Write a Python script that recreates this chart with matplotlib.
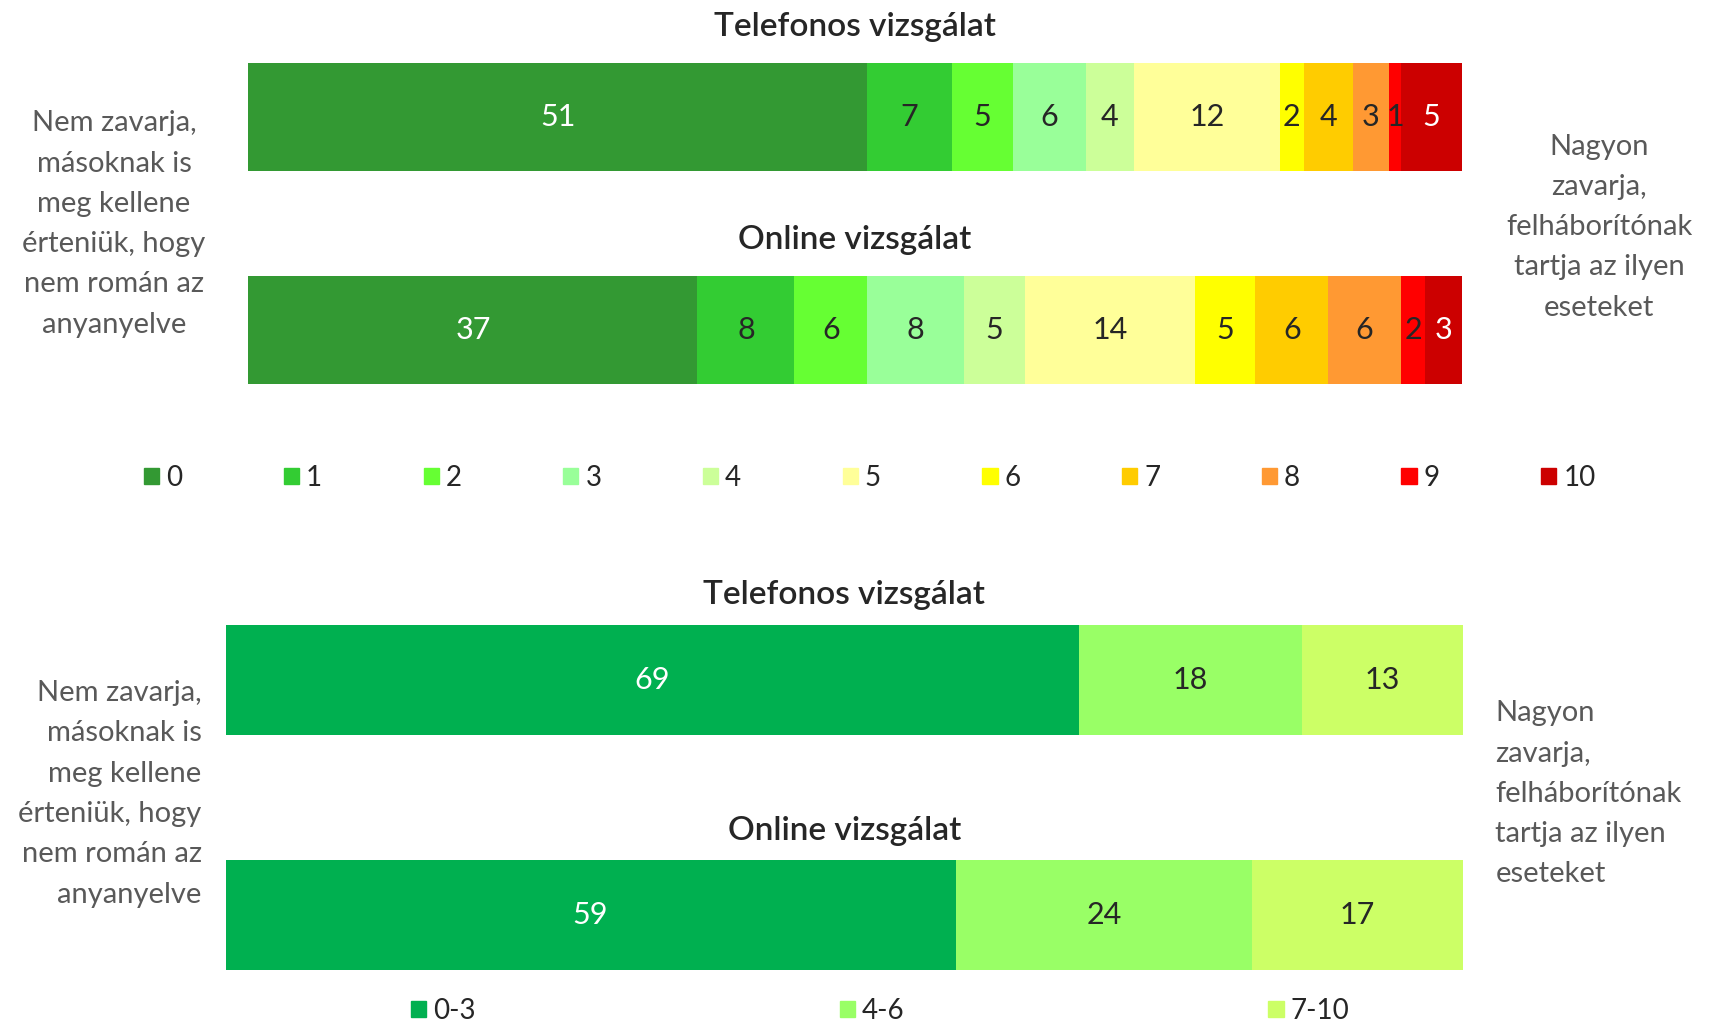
import matplotlib
matplotlib.use("Agg")
import matplotlib.pyplot as plt
import numpy as np

plt.rcParams['font.family'] = ['Lato', 'DejaVu Sans']

# --- data -------------------------------------------------------------
rows = ['Telefonos vizsgálat', 'Online vizsgálat']

cats_11 = ['0', '1', '2', '3', '4', '5', '6', '7', '8', '9', '10']
tel_11 = [51, 7, 5, 6, 4, 12, 2, 4, 3, 1, 5]
onl_11 = [37, 8, 6, 8, 5, 14, 5, 6, 6, 2, 3]
colors_11 = ['#339933', '#33CC33', '#66FF33', '#99FF99', '#CCFF99', '#FFFF99',
             '#FFFF00', '#FFCC00', '#FF9933', '#FF0000', '#CC0000']
txtcol_11 = ['white', '#262626', '#262626', '#262626', '#262626', '#262626',
             '#262626', '#262626', '#262626', '#262626', 'white']

cats_3 = ['0-3', '4-6', '7-10']
tel_3 = [69, 18, 13]
onl_3 = [59, 24, 17]
colors_3 = ['#00B050', '#99FF66', '#CCFF66']
txtcol_3 = ['white', '#262626', '#262626']

left_txt = 'Nem zavarja,\nmásoknak is\nmeg kellene\nérteniük, hogy\nnem román az\nanyanyelve'
right_txt = 'Nagyon\nzavarja,\nfelháborítónak\ntartja az ilyen\neseteket'

FS = 22       # value labels
FS_S = 21     # side text
FS_T = 24     # row titles
FS_L = 20     # legend
LS = 1.68
SIDE_COL = '#595959'


def stacked(ax, series, colors, txtcols, height, toff):
    for i, vals in enumerate(series):
        left = 0
        for v, c, tc in zip(vals, colors, txtcols):
            ax.barh(i, v, left=left, height=height, color=c, edgecolor='none')
            ax.text(left + v / 2, i, str(v), ha='center', va='center',
                    fontsize=FS, color=tc)
            left += v
        ax.annotate(rows[i], xy=(50, i - height / 2), xycoords='data',
                    xytext=(0, toff), textcoords='offset points',
                    ha='center', va='center', fontsize=FS_T, color='#262626',
                    fontweight='semibold', annotation_clip=False)
    ax.set_xlim(0, 100)
    ax.set_ylim(1 + height / 2, -height / 2)
    ax.axis('off')


fig = plt.figure(figsize=(17.09, 10.23), dpi=100)

# top chart (0-10 scale)
ax1 = fig.add_axes([0.1454, 0.6249, 0.7099, 0.3135])
h1 = 0.507
stacked(ax1, [tel_11, onl_11], colors_11, txtcol_11, h1, 26)
handles1 = [plt.Rectangle((0, 0), 1, 1, color=c) for c in colors_11]
fig.legend(handles1, cats_11, loc='center', bbox_to_anchor=(0.509, 0.533),
           ncol=11, frameon=False, fontsize=FS_L, handlelength=0.55,
           handleheight=0.55, handletextpad=0.25, columnspacing=3.65,
           labelcolor='#262626')
fig.text(0.0667, 0.781, left_txt, ha='center', va='center', fontsize=FS_S,
         color=SIDE_COL, linespacing=LS)
fig.text(0.9357, 0.778, right_txt, ha='center', va='center', fontsize=FS_S,
         color=SIDE_COL, linespacing=LS)

# bottom chart (grouped scale)
ax2 = fig.add_axes([0.1320, 0.0518, 0.7239, 0.3377])
h2 = 0.467
stacked(ax2, [tel_3, onl_3], colors_3, txtcol_3, h2, 21)
handles2 = [plt.Rectangle((0, 0), 1, 1, color=c) for c in colors_3]
fig.legend(handles2, cats_3, loc='center', bbox_to_anchor=(0.515, 0.012),
           ncol=3, frameon=False, fontsize=FS_L, handlelength=0.55,
           handleheight=0.55, handletextpad=0.25, columnspacing=13.1,
           labelcolor='#262626')
fig.text(0.118, 0.224, left_txt, ha='right', va='center', fontsize=FS_S,
         color=SIDE_COL, linespacing=LS)
fig.text(0.875, 0.224, right_txt, ha='left', va='center', fontsize=FS_S,
         color=SIDE_COL, linespacing=LS)

fig.savefig('out.png', dpi=100)
